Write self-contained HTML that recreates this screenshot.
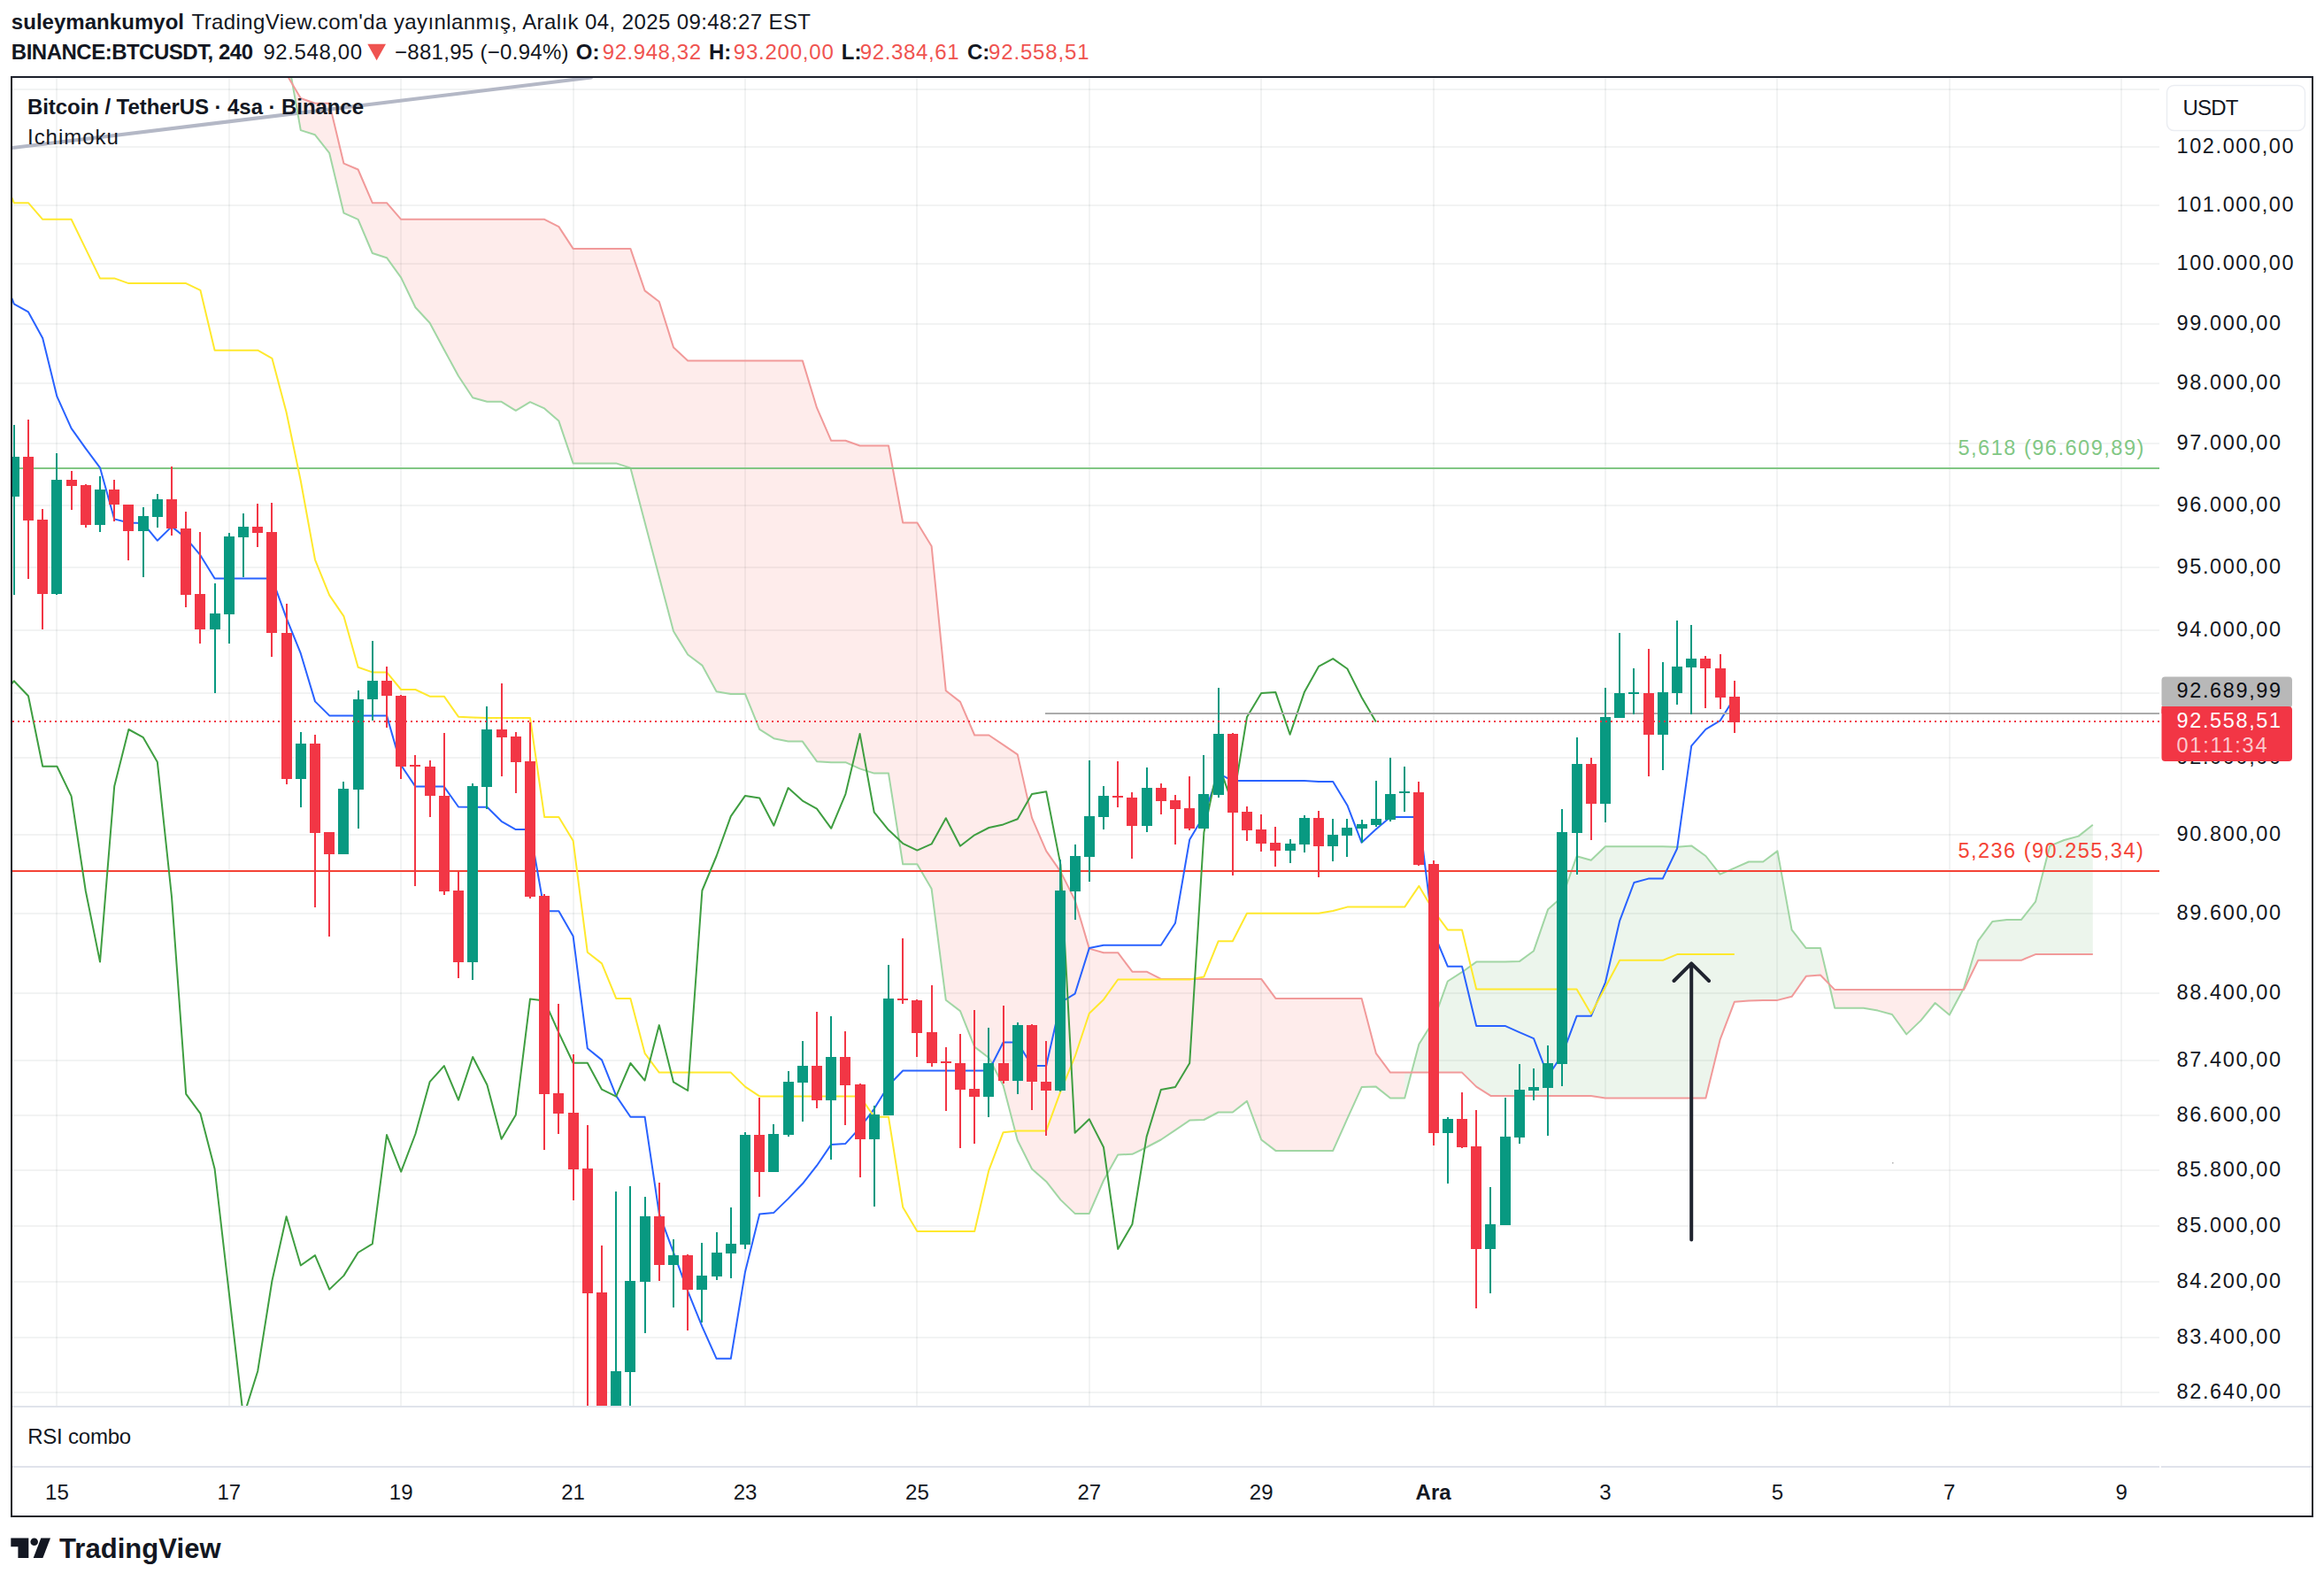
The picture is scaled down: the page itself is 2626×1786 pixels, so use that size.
<!DOCTYPE html>
<html lang="tr"><head><meta charset="utf-8"><title>BTCUSDT</title>
<style>html,body{margin:0;padding:0;background:#fff}body{width:2626px;height:1786px;position:relative;overflow:hidden}</style></head>
<body>
<svg width="2626" height="1786" viewBox="0 0 2626 1786" style="position:absolute;left:0;top:0;display:block">
<defs><clipPath id="cp"><rect x="14" y="88" width="2426" height="1500"/></clipPath></defs>
<rect width="2626" height="1786" fill="#fff"/>
<path d="M64 88V1588M259 88V1588M453 88V1588M648 88V1588M842 88V1588M1036 88V1588M1231 88V1588M1425 88V1588M1620 88V1588M1814 88V1588M2008 88V1588M2203 88V1588M2397 88V1588" stroke="#2a2e39" stroke-opacity="0.06" stroke-width="2" fill="none"/>
<path d="M14 101H2440M14 166H2440M14 232H2440M14 298H2440M14 366H2440M14 433H2440M14 501H2440M14 571H2440M14 641H2440M14 712H2440M14 783H2440M14 856H2440M14 943H2440M14 1032H2440M14 1122H2440M14 1198H2440M14 1260H2440M14 1322H2440M14 1385H2440M14 1448H2440M14 1511H2440M14 1573H2440" stroke="#2a2e39" stroke-opacity="0.06" stroke-width="2" fill="none"/>
<g clip-path="url(#cp)">
<path d="M323.6 56L339.8 147.1L356 152.3L372.2 172.9L388.4 240.6L404.6 247.8L420.8 286L437 291.2L453.2 313.6L469.4 347.2L485.6 364.8L501.8 395L518 424.7L534.2 449.2L550.4 453.8L566.6 453.8L582.8 463.8L599 454.2L615.2 461.4L631.4 475.6L647.6 523.4L663.8 523.4L680 523.4L696.2 523.4L712.4 528.6L728.6 590L744.8 651.4L761 713.1L777.2 739.5L793.4 751.6L809.6 781.3L825.8 783.9L842 783.9L858.2 823.9L874.4 834.2L890.6 837.6L906.8 837.6L923 860.2L939.2 861.2L955.4 861.2L971.6 868.4L987.8 873.6L1004 873.6L1020.2 976.3L1036.4 976.3L1052.6 1004L1068.8 1129.7L1085 1142.1L1101.2 1182.6L1117.4 1195L1133.6 1226.3L1149.8 1288.3L1166 1320.5L1182.2 1334.7L1198.4 1355.4L1214.6 1370.9L1230.8 1370.9L1247 1333.5L1263.2 1304.5L1279.4 1303.8L1295.6 1296L1311.8 1287.5L1328 1276.7L1344.2 1265.6L1360.4 1265L1376.6 1256.5L1392.8 1256.5L1409 1243.9L1425.2 1287.5L1441.4 1299.9L1457.6 1299.9L1473.8 1299.9L1490 1299.9L1506.2 1299.9L1522.4 1263.7L1538.6 1228.1L1554.8 1227.6L1571 1240.5L1587.2 1240.5L1587.2 1211.6L1571 1211.6L1554.8 1189.8L1538.6 1127.9L1522.4 1127.9L1506.2 1127.9L1490 1127.9L1473.8 1127.9L1457.6 1127.9L1441.4 1127.9L1425.2 1105.9L1409 1105.9L1392.8 1105.9L1376.6 1105.9L1360.4 1105.9L1344.2 1105.9L1328 1105.9L1311.8 1105.9L1295.6 1097.7L1279.4 1097.7L1263.2 1076.2L1247 1076.2L1230.8 1071.6L1214.6 1016.9L1198.4 984.6L1182.2 961.4L1166 923.9L1149.8 852.4L1133.6 841.3L1117.4 830.5L1101.2 830.5L1085 792.9L1068.8 780.3L1052.6 616.9L1036.4 590.5L1020.2 590.5L1004 503.5L987.8 503.5L971.6 503.5L955.4 497.8L939.2 497.8L923 460.7L906.8 407.4L890.6 407.4L874.4 407.4L858.2 407.4L842 407.4L825.8 407.4L809.6 407.4L793.4 407.4L777.2 407.4L761 392.4L744.8 340.8L728.6 328.4L712.4 280.9L696.2 280.9L680 280.9L663.8 280.9L647.6 280.9L631.4 256.1L615.2 247.8L599 247.8L582.8 247.8L566.6 247.8L550.4 247.8L534.2 247.8L518 247.8L501.8 247.8L485.6 247.8L469.4 247.8L453.2 247.8L437 229.2L420.8 229.2L404.6 191.5L388.4 184.6L372.2 116.7L356 116.7L339.8 111L323.6 83.6ZM2057 1071.1L2073.2 1138.7L2089.4 1138.7L2105.6 1138.7L2121.8 1141.6L2138 1146L2154.2 1168.4L2170.4 1152.9L2186.6 1133L2202.8 1146.5L2202.8 1118.1L2186.6 1118.1L2170.4 1118.1L2154.2 1118.1L2138 1118.1L2121.8 1118.1L2105.6 1118.1L2089.4 1118.1L2073.2 1118.1L2057 1101.5Z" fill="#f44336" fill-opacity="0.1" fill-rule="nonzero"/>
<path d="M307.4 -23.3L323.6 56L323.6 83.6L307.4 54.2ZM1587.2 1240.5L1603.4 1179.5L1619.6 1153.7L1635.8 1108.5L1652 1098.2L1668.2 1086.6L1684.4 1086.6L1700.6 1086.6L1716.8 1086.1L1733 1074.2L1749.2 1027.2L1765.4 1013L1781.6 967.3L1797.8 971.7L1814 956.2L1830.2 956.2L1846.4 956.2L1862.6 956.2L1878.8 956.2L1895 956.7L1911.2 955.4L1927.4 967L1943.6 987.7L1959.8 980.7L1976 973.5L1992.2 973.5L2008.4 961.4L2024.6 1050.4L2040.8 1071.1L2057 1071.1L2057 1101.5L2040.8 1102.8L2024.6 1125.8L2008.4 1129.9L1992.2 1129.9L1976 1130.5L1959.8 1131.8L1943.6 1174.4L1927.4 1240.5L1911.2 1240.5L1895 1240.5L1878.8 1240.5L1862.6 1240.5L1846.4 1240.5L1830.2 1240.5L1814 1240.5L1797.8 1237.9L1781.6 1237.9L1765.4 1237.9L1749.2 1237.9L1733 1237.9L1716.8 1237.9L1700.6 1237.9L1684.4 1237.9L1668.2 1227.6L1652 1211.6L1635.8 1211.6L1619.6 1211.6L1603.4 1211.6L1587.2 1211.6ZM2202.8 1146.5L2219 1116.3L2235.2 1062.8L2251.4 1040.9L2267.6 1039.1L2283.8 1039.1L2300 1018.7L2316.2 955.7L2332.4 949L2348.6 944.6L2364.8 931.7L2364.8 1078.1L2348.6 1078.1L2332.4 1078.1L2316.2 1078.1L2300 1078.1L2283.8 1084.8L2267.6 1084.8L2251.4 1084.8L2235.2 1084.8L2219 1118.1L2202.8 1118.1Z" fill="#43a047" fill-opacity="0.1" fill-rule="nonzero"/>
<line x1="13" y1="167.2" x2="668" y2="87.5" stroke="#b4b8c6" stroke-width="4" stroke-linecap="round"/>
<polyline points="307.4,-23.3 323.6,56 339.8,147.1 356,152.3 372.2,172.9 388.4,240.6 404.6,247.8 420.8,286 437,291.2 453.2,313.6 469.4,347.2 485.6,364.8 501.8,395 518,424.7 534.2,449.2 550.4,453.8 566.6,453.8 582.8,463.8 599,454.2 615.2,461.4 631.4,475.6 647.6,523.4 663.8,523.4 680,523.4 696.2,523.4 712.4,528.6 728.6,590 744.8,651.4 761,713.1 777.2,739.5 793.4,751.6 809.6,781.3 825.8,783.9 842,783.9 858.2,823.9 874.4,834.2 890.6,837.6 906.8,837.6 923,860.2 939.2,861.2 955.4,861.2 971.6,868.4 987.8,873.6 1004,873.6 1020.2,976.3 1036.4,976.3 1052.6,1004 1068.8,1129.7 1085,1142.1 1101.2,1182.6 1117.4,1195 1133.6,1226.3 1149.8,1288.3 1166,1320.5 1182.2,1334.7 1198.4,1355.4 1214.6,1370.9 1230.8,1370.9 1247,1333.5 1263.2,1304.5 1279.4,1303.8 1295.6,1296 1311.8,1287.5 1328,1276.7 1344.2,1265.6 1360.4,1265 1376.6,1256.5 1392.8,1256.5 1409,1243.9 1425.2,1287.5 1441.4,1299.9 1457.6,1299.9 1473.8,1299.9 1490,1299.9 1506.2,1299.9 1522.4,1263.7 1538.6,1228.1 1554.8,1227.6 1571,1240.5 1587.2,1240.5 1603.4,1179.5 1619.6,1153.7 1635.8,1108.5 1652,1098.2 1668.2,1086.6 1684.4,1086.6 1700.6,1086.6 1716.8,1086.1 1733,1074.2 1749.2,1027.2 1765.4,1013 1781.6,967.3 1797.8,971.7 1814,956.2 1830.2,956.2 1846.4,956.2 1862.6,956.2 1878.8,956.2 1895,956.7 1911.2,955.4 1927.4,967 1943.6,987.7 1959.8,980.7 1976,973.5 1992.2,973.5 2008.4,961.4 2024.6,1050.4 2040.8,1071.1 2057,1071.1 2073.2,1138.7 2089.4,1138.7 2105.6,1138.7 2121.8,1141.6 2138,1146 2154.2,1168.4 2170.4,1152.9 2186.6,1133 2202.8,1146.5 2219,1116.3 2235.2,1062.8 2251.4,1040.9 2267.6,1039.1 2283.8,1039.1 2300,1018.7 2316.2,955.7 2332.4,949 2348.6,944.6 2364.8,931.7" fill="none" stroke="#a1d6a4" stroke-width="2" stroke-linejoin="round" />
<polyline points="307.4,54.2 323.6,83.6 339.8,111 356,116.7 372.2,116.7 388.4,184.6 404.6,191.5 420.8,229.2 437,229.2 453.2,247.8 469.4,247.8 485.6,247.8 501.8,247.8 518,247.8 534.2,247.8 550.4,247.8 566.6,247.8 582.8,247.8 599,247.8 615.2,247.8 631.4,256.1 647.6,280.9 663.8,280.9 680,280.9 696.2,280.9 712.4,280.9 728.6,328.4 744.8,340.8 761,392.4 777.2,407.4 793.4,407.4 809.6,407.4 825.8,407.4 842,407.4 858.2,407.4 874.4,407.4 890.6,407.4 906.8,407.4 923,460.7 939.2,497.8 955.4,497.8 971.6,503.5 987.8,503.5 1004,503.5 1020.2,590.5 1036.4,590.5 1052.6,616.9 1068.8,780.3 1085,792.9 1101.2,830.5 1117.4,830.5 1133.6,841.3 1149.8,852.4 1166,923.9 1182.2,961.4 1198.4,984.6 1214.6,1016.9 1230.8,1071.6 1247,1076.2 1263.2,1076.2 1279.4,1097.7 1295.6,1097.7 1311.8,1105.9 1328,1105.9 1344.2,1105.9 1360.4,1105.9 1376.6,1105.9 1392.8,1105.9 1409,1105.9 1425.2,1105.9 1441.4,1127.9 1457.6,1127.9 1473.8,1127.9 1490,1127.9 1506.2,1127.9 1522.4,1127.9 1538.6,1127.9 1554.8,1189.8 1571,1211.6 1587.2,1211.6 1603.4,1211.6 1619.6,1211.6 1635.8,1211.6 1652,1211.6 1668.2,1227.6 1684.4,1237.9 1700.6,1237.9 1716.8,1237.9 1733,1237.9 1749.2,1237.9 1765.4,1237.9 1781.6,1237.9 1797.8,1237.9 1814,1240.5 1830.2,1240.5 1846.4,1240.5 1862.6,1240.5 1878.8,1240.5 1895,1240.5 1911.2,1240.5 1927.4,1240.5 1943.6,1174.4 1959.8,1131.8 1976,1130.5 1992.2,1129.9 2008.4,1129.9 2024.6,1125.8 2040.8,1102.8 2057,1101.5 2073.2,1118.1 2089.4,1118.1 2105.6,1118.1 2121.8,1118.1 2138,1118.1 2154.2,1118.1 2170.4,1118.1 2186.6,1118.1 2202.8,1118.1 2219,1118.1 2235.2,1084.8 2251.4,1084.8 2267.6,1084.8 2283.8,1084.8 2300,1078.1 2316.2,1078.1 2332.4,1078.1 2348.6,1078.1 2364.8,1078.1" fill="none" stroke="#f19a9a" stroke-width="2" stroke-linejoin="round" />
<path d="M14 529H2440" stroke="#81c784" stroke-width="2"/>
<path d="M14 984H2440" stroke="#f44336" stroke-width="2"/>
<polyline points="13.4,336.9 15.8,343.3 32,352.4 48.2,382.1 64.4,447.9 80.6,483.9 96.8,506.6 113,528.3 129.2,586.4 145.4,590.5 161.6,591 177.8,610.7 194,594.9 210.2,607.8 226.4,627.2 242.6,653.5 258.8,653.5 275,653.5 291.2,653.5 307.4,653.5 323.6,698.2 339.8,738.2 356,792.4 372.2,808.4 388.4,808.4 404.6,808.4 420.8,808.4 437,808.4 453.2,864.5 469.4,888.6 485.6,888.6 501.8,888.6 518,911.5 534.2,911.8 550.4,911.8 566.6,927.8 582.8,937.1 599,937.1 615.2,1029.3 631.4,1029.3 647.6,1057.4 663.8,1184.2 680,1197.4 696.2,1237.9 712.4,1261.7 728.6,1261.7 744.8,1370.9 761,1414.8 777.2,1458.7 793.4,1498.7 809.6,1534.8 825.8,1534.8 842,1436.7 858.2,1371.4 874.4,1369.9 890.6,1354.1 906.8,1337.3 923,1316.7 939.2,1292.9 955.4,1291.9 971.6,1274.1 987.8,1252.6 1004,1226.3 1020.2,1209.5 1036.4,1209.5 1052.6,1209.5 1068.8,1209.5 1085,1209.5 1101.2,1209.5 1117.4,1209.5 1133.6,1177.5 1149.8,1177.5 1166,1204 1182.2,1204 1198.4,1132.5 1214.6,1122.7 1230.8,1071.1 1247,1067.7 1263.2,1067.7 1279.4,1067.7 1295.6,1067.7 1311.8,1067.7 1328,1042.7 1344.2,948.5 1360.4,921.3 1376.6,873.6 1392.8,882.1 1409,882.1 1425.2,882.1 1441.4,882.1 1457.6,882.1 1473.8,882.1 1490,882.9 1506.2,882.9 1522.4,909.7 1538.6,951.8 1554.8,936.8 1571,922.9 1587.2,922.9 1603.4,922.9 1619.6,1053 1635.8,1091.7 1652,1091.7 1668.2,1158.9 1684.4,1158.9 1700.6,1158.9 1716.8,1166.1 1733,1173.1 1749.2,1215.7 1765.4,1191.1 1781.6,1147.8 1797.8,1147.8 1814,1109.8 1830.2,1040.1 1846.4,997 1862.6,992.6 1878.8,992.6 1895,958.8 1911.2,842.6 1927.4,823.8 1943.6,814.2 1959.8,788.4" fill="none" stroke="#2962ff" stroke-width="2" stroke-linejoin="round" />
<polyline points="13.4,223.3 15.8,229.2 32,229.2 48.2,247.8 64.4,247.8 80.6,247.8 96.8,281.1 113,314.4 129.2,314.4 145.4,320.1 161.6,320.1 177.8,320.1 194,320.1 210.2,320.1 226.4,327.8 242.6,395.7 258.8,395.7 275,395.7 291.2,395.7 307.4,404.8 323.6,465.8 339.8,543.3 356,632.3 372.2,672.4 388.4,696.1 404.6,753.7 420.8,759.4 437,759.4 453.2,779 469.4,779 485.6,786.7 501.8,786.7 518,809.7 534.2,810.5 550.4,811 566.6,811 582.8,811 599,811 615.2,923.1 631.4,923.1 647.6,949.7 663.8,1075.7 680,1088.4 696.2,1127.9 712.4,1127.9 728.6,1189.8 744.8,1211.6 761,1211.6 777.2,1211.6 793.4,1211.6 809.6,1211.6 825.8,1211.6 842,1227.6 858.2,1238.4 874.4,1238.4 890.6,1238.4 906.8,1238.4 923,1238.4 939.2,1238.4 955.4,1238.4 971.6,1238.4 987.8,1261.7 1004,1261.7 1020.2,1363.7 1036.4,1391 1052.6,1391 1068.8,1391 1085,1391 1101.2,1391 1117.4,1321.8 1133.6,1279.2 1149.8,1277.4 1166,1277.4 1182.2,1277.4 1198.4,1232.8 1214.6,1193.7 1230.8,1144.7 1247,1129.2 1263.2,1106.5 1279.4,1106.5 1295.6,1106.5 1311.8,1106.5 1328,1106.5 1344.2,1106.5 1360.4,1103.4 1376.6,1063.3 1392.8,1063.3 1409,1031.8 1425.2,1031.8 1441.4,1031.8 1457.6,1031.8 1473.8,1031.8 1490,1031.8 1506.2,1029 1522.4,1024.6 1538.6,1024.6 1554.8,1024.6 1571,1024.6 1587.2,1024.6 1603.4,1000.9 1619.6,1028.5 1635.8,1050.4 1652,1050.4 1668.2,1117.6 1684.4,1117.6 1700.6,1117.6 1716.8,1117.6 1733,1117.6 1749.2,1117.6 1765.4,1117.6 1781.6,1117.6 1797.8,1145.2 1814,1115 1830.2,1084.8 1846.4,1084.8 1862.6,1084.8 1878.8,1084.8 1895,1078.1 1911.2,1078.1 1927.4,1078.1 1943.6,1078.1 1959.8,1078.1" fill="none" stroke="#ffe92e" stroke-width="2" stroke-linejoin="round" />
<polyline points="-0.4,790.3 15.8,769.2 32,786.2 48.2,865.8 64.4,865.8 80.6,899.4 96.8,1006.5 113,1086.6 129.2,888.3 145.4,824 161.6,832.8 177.8,860.7 194,1013 210.2,1235.9 226.4,1257.8 242.6,1320.5 258.8,1460.7 275,1600.7 291.2,1549 307.4,1447 323.6,1374.2 339.8,1429.5 356,1418.1 372.2,1456.6 388.4,1441.1 404.6,1415 420.8,1405.2 437,1282.1 453.2,1323.6 469.4,1281 485.6,1222.2 501.8,1204.1 518,1242.6 534.2,1194 550.4,1225.5 566.6,1286.7 582.8,1259.4 599,1128.4 615.2,1130.5 631.4,1166.6 647.6,1200.7 663.8,1200.7 680,1230.7 696.2,1238.7 712.4,1201 728.6,1220.6 744.8,1158.1 761,1222.4 777.2,1232 793.4,1006 809.6,967 825.8,922.1 842,898.9 858.2,901.5 874.4,932.7 890.6,890.1 906.8,904.6 923,913.6 939.2,935.8 955.4,897.1 971.6,828.9 987.8,917.7 1004,937.6 1020.2,952.8 1036.4,960.6 1052.6,953.4 1068.8,924.2 1085,955.7 1101.2,943.3 1117.4,935 1133.6,931.4 1149.8,925.2 1166,897.1 1182.2,894.2 1198.4,976.9 1214.6,1279.8 1230.8,1264.3 1247,1296 1263.2,1410.9 1279.4,1383 1295.6,1284.1 1311.8,1231 1328,1228.1 1344.2,1201 1360.4,940.2 1376.6,862.7 1392.8,908.4 1409,810 1425.2,782.9 1441.4,782.1 1457.6,829.8 1473.8,782.1 1490,752.9 1506.2,744.1 1522.4,755.5 1538.6,787.8 1554.8,815.6" fill="none" stroke="#3f9e41" stroke-width="2" stroke-linejoin="round" />
<path d="M1181 806H2440" stroke="#ababab" stroke-width="2"/>
<path d="M16 480V672M64 512V672M113 538V601M162 573V652M178 558V596M243 659V783M259 602V727M275 580V652M340 827V912M388 883V965M405 780V936M421 724V814M534 885V1107M550 798V914M696 1346V1608M712 1340V1608M729 1352V1506M761 1400V1477M793 1404V1494M810 1392V1446M826 1364V1444M842 1279V1411M874 1270V1324M891 1210V1284M907 1176V1267M939 1148V1310M988 1249V1363M1004 1090V1260M1117 1161V1262M1150 1155V1236M1198 971V1233M1215 954V1039M1231 859V996M1247 888V937M1296 867V940M1360 853V936M1377 777V901M1458 948V975M1474 921V963M1506 925V973M1522 925V968M1539 926V952M1555 882V934M1571 856V928M1587 866V917M1636 1262V1337M1684 1341V1461M1701 1240V1384M1717 1202V1292M1733 1207V1243M1749 1181V1283M1765 914V1227M1782 833V988M1814 777V929M1830 715V811M1846 755V807M1879 748V870M1895 701V796M1911 706V807" stroke="#089981" stroke-width="2" fill="none"/>
<path d="M32 474V654M48 575V711M81 532V576M97 547V596M129 542V589M145 570V633M194 527V605M210 578V686M226 601V727M291 569V618M307 568V742M324 682V886M356 830V1025M372 940V1058M437 753V822M453 785V880M469 853V1001M486 859V923M502 828V1011M518 985V1105M567 772V877M583 827V896M599 816V1015M615 1010V1299M631 1134V1281M648 1191V1356M664 1271V1608M680 1407V1608M745 1336V1447M777 1417V1503M858 1240V1352M923 1143V1252M955 1165V1271M972 1224V1330M1020 1060V1134M1036 1129V1194M1053 1113V1205M1069 1183V1255M1085 1168V1297M1101 1141V1292M1134 1136V1224M1166 1157V1254M1182 1176V1283M1263 860V912M1279 895V970M1312 885V920M1328 898V954M1344 877V938M1393 828V989M1409 911V950M1425 920V962M1441 934V979M1490 916V991M1603 883V978M1620 972V1294M1652 1234V1297M1668 1254V1478M1798 856V949M1863 733V877M1927 741V800M1944 739V801M1960 769V828" stroke="#f23645" stroke-width="2" fill="none"/>
<path d="M10 516h12V561h-12ZM58 542h12V671h-12ZM107 553h12V593h-12ZM156 583h12V600h-12ZM172 564h12V584h-12ZM237 693h12V711h-12ZM253 606h12V694h-12ZM269 595h12V607h-12ZM334 840h12V880h-12ZM382 891h12V965h-12ZM399 790h12V892h-12ZM415 769h12V790h-12ZM528 888h12V1087h-12ZM544 824h12V889h-12ZM690 1549h12V1608h-12ZM706 1447h12V1550h-12ZM723 1374h12V1448h-12ZM755 1418h12V1429h-12ZM787 1441h12V1457h-12ZM804 1415h12V1442h-12ZM820 1405h12V1416h-12ZM836 1282h12V1406h-12ZM868 1281h12V1324h-12ZM885 1222h12V1282h-12ZM901 1204h12V1223h-12ZM933 1194h12V1243h-12ZM982 1259h12V1287h-12ZM998 1128h12V1260h-12ZM1111 1201h12V1239h-12ZM1144 1158h12V1221h-12ZM1192 1006h12V1232h-12ZM1209 967h12V1007h-12ZM1225 922h12V968h-12ZM1241 899h12V923h-12ZM1290 890h12V933h-12ZM1354 897h12V936h-12ZM1371 829h12V898h-12ZM1452 953h12V961h-12ZM1468 924h12V954h-12ZM1500 943h12V956h-12ZM1516 935h12V944h-12ZM1533 931h12V936h-12ZM1549 925h12V932h-12ZM1565 897h12V926h-12ZM1581 894h12V896h-12ZM1630 1264h12V1280h-12ZM1678 1383h12V1411h-12ZM1695 1284h12V1384h-12ZM1711 1231h12V1285h-12ZM1727 1228h12V1232h-12ZM1743 1201h12V1229h-12ZM1759 940h12V1202h-12ZM1776 863h12V941h-12ZM1808 810h12V908h-12ZM1824 783h12V811h-12ZM1840 782h12V784h-12ZM1873 782h12V830h-12ZM1889 753h12V783h-12ZM1905 744h12V754h-12Z" fill="#089981"/>
<path d="M26 516h12V588h-12ZM42 587h12V671h-12ZM75 542h12V549h-12ZM91 548h12V593h-12ZM123 553h12V570h-12ZM139 570h12V600h-12ZM188 564h12V597h-12ZM204 597h12V672h-12ZM220 671h12V711h-12ZM285 595h12V602h-12ZM301 601h12V715h-12ZM318 715h12V880h-12ZM350 840h12V941h-12ZM366 940h12V965h-12ZM431 769h12V786h-12ZM447 786h12V866h-12ZM463 864h12V866h-12ZM480 866h12V899h-12ZM496 899h12V1007h-12ZM512 1006h12V1087h-12ZM561 824h12V833h-12ZM577 832h12V861h-12ZM593 860h12V1013h-12ZM609 1012h12V1236h-12ZM625 1235h12V1258h-12ZM642 1257h12V1321h-12ZM658 1320h12V1461h-12ZM674 1460h12V1608h-12ZM739 1374h12V1429h-12ZM771 1418h12V1457h-12ZM852 1282h12V1324h-12ZM917 1204h12V1243h-12ZM949 1194h12V1226h-12ZM966 1225h12V1287h-12ZM1014 1128h12V1130h-12ZM1030 1130h12V1167h-12ZM1047 1166h12V1201h-12ZM1063 1199h12V1201h-12ZM1079 1201h12V1231h-12ZM1095 1230h12V1239h-12ZM1128 1201h12V1221h-12ZM1160 1158h12V1222h-12ZM1176 1222h12V1232h-12ZM1257 899h12V901h-12ZM1273 901h12V933h-12ZM1306 890h12V905h-12ZM1322 904h12V914h-12ZM1338 913h12V936h-12ZM1387 829h12V918h-12ZM1403 917h12V938h-12ZM1419 937h12V953h-12ZM1435 952h12V961h-12ZM1484 924h12V956h-12ZM1597 895h12V977h-12ZM1614 976h12V1280h-12ZM1646 1264h12V1296h-12ZM1662 1295h12V1411h-12ZM1792 863h12V908h-12ZM1857 783h12V830h-12ZM1921 744h12V755h-12ZM1938 755h12V788h-12ZM1954 787h12V816h-12Z" fill="#f23645"/>
<path d="M14 815H2440" stroke="#f23645" stroke-width="2" stroke-dasharray="2 4"/>
<path d="M1911.2 1400.5V1088.5M1891.5 1108L1911.2 1088.4L1931 1108" stroke="#20242f" stroke-width="4" stroke-linecap="round" stroke-linejoin="round" fill="none"/>
<rect x="2138" y="1313" width="1.5" height="1.5" fill="#b0b0b0"/>
</g>
<path d="M14 1589H2612M14 1657H2440M2442 1657H2612" stroke="#e0e3eb" stroke-width="2"/>
<rect x="13" y="87" width="2600" height="1626" fill="none" stroke="#1c202b" stroke-width="2"/>
<g font-family="Liberation Sans, Arial, sans-serif">
<text x="12.8" y="32.8" font-size="24" fill="#131722" font-weight="bold" textLength="195.2" lengthAdjust="spacing" >suleymankumyol</text>
<text x="216.5" y="32.8" font-size="24" fill="#131722" textLength="699.5" lengthAdjust="spacing" >TradingView.com'da yayınlanmış, Aralık 04, 2025 09:48:27 EST</text>
<text x="12.8" y="66.8" font-size="24" fill="#131722" font-weight="bold" textLength="273.2" lengthAdjust="spacing" >BINANCE:BTCUSDT, 240</text>
<text x="297.4" y="66.8" font-size="24" fill="#131722" textLength="111.6" lengthAdjust="spacing" >92.548,00</text>
<path d="M415.3 49.7H436L425.6 68.2Z" fill="#ef5350"/>
<text x="446" y="66.8" font-size="24" fill="#131722" textLength="196.6" lengthAdjust="spacing" >−881,95 (−0.94%)</text>
<text x="650.8" y="66.8" font-size="24" fill="#131722" font-weight="bold" >O:</text>
<text x="680.8" y="66.8" font-size="24" fill="#ef5350" textLength="111.2" lengthAdjust="spacing" >92.948,32</text>
<text x="801" y="66.8" font-size="24" fill="#131722" font-weight="bold" >H:</text>
<text x="828.8" y="66.8" font-size="24" fill="#ef5350" textLength="113" lengthAdjust="spacing" >93.200,00</text>
<text x="950.8" y="66.8" font-size="24" fill="#131722" font-weight="bold" >L:</text>
<text x="971.8" y="66.8" font-size="24" fill="#ef5350" textLength="111.8" lengthAdjust="spacing" >92.384,61</text>
<text x="1093" y="66.8" font-size="24" fill="#131722" font-weight="bold" >C:</text>
<text x="1117" y="66.8" font-size="24" fill="#ef5350" textLength="113.5" lengthAdjust="spacing" >92.558,51</text>
<text x="31" y="128.5" font-size="24" fill="#131722" font-weight="bold" textLength="380" lengthAdjust="spacing" >Bitcoin / TetherUS · 4sa · Binance</text>
<text x="31" y="162.6" font-size="24" fill="#131722" textLength="102.8" lengthAdjust="spacing" >Ichimoku</text>
<text x="31.2" y="1630.6" font-size="24" fill="#131722" textLength="117" lengthAdjust="spacing" >RSI combo</text>
<text x="2212.4" y="513.6" font-size="23.5" fill="#81c784" textLength="210" lengthAdjust="spacing" >5,618 (96.609,89)</text>
<text x="2212.4" y="969" font-size="23.5" fill="#f44336" textLength="209.4" lengthAdjust="spacing" >5,236 (90.255,34)</text>
<text x="2459.5" y="172.6" font-size="23.5" fill="#131722" textLength="132" lengthAdjust="spacing" >102.000,00</text>
<text x="2459.5" y="238.6" font-size="23.5" fill="#131722" textLength="132" lengthAdjust="spacing" >101.000,00</text>
<text x="2459.5" y="304.6" font-size="23.5" fill="#131722" textLength="132" lengthAdjust="spacing" >100.000,00</text>
<text x="2459.5" y="372.6" font-size="23.5" fill="#131722" textLength="117.6" lengthAdjust="spacing" >99.000,00</text>
<text x="2459.5" y="439.6" font-size="23.5" fill="#131722" textLength="117.6" lengthAdjust="spacing" >98.000,00</text>
<text x="2459.5" y="507.6" font-size="23.5" fill="#131722" textLength="117.6" lengthAdjust="spacing" >97.000,00</text>
<text x="2459.5" y="577.6" font-size="23.5" fill="#131722" textLength="117.6" lengthAdjust="spacing" >96.000,00</text>
<text x="2459.5" y="647.6" font-size="23.5" fill="#131722" textLength="117.6" lengthAdjust="spacing" >95.000,00</text>
<text x="2459.5" y="718.6" font-size="23.5" fill="#131722" textLength="117.6" lengthAdjust="spacing" >94.000,00</text>
<text x="2459.5" y="862.6" font-size="23.5" fill="#131722" textLength="117.6" lengthAdjust="spacing" >92.000,00</text>
<text x="2459.5" y="949.6" font-size="23.5" fill="#131722" textLength="117.6" lengthAdjust="spacing" >90.800,00</text>
<text x="2459.5" y="1038.6" font-size="23.5" fill="#131722" textLength="117.6" lengthAdjust="spacing" >89.600,00</text>
<text x="2459.5" y="1128.6" font-size="23.5" fill="#131722" textLength="117.6" lengthAdjust="spacing" >88.400,00</text>
<text x="2459.5" y="1204.6" font-size="23.5" fill="#131722" textLength="117.6" lengthAdjust="spacing" >87.400,00</text>
<text x="2459.5" y="1266.6" font-size="23.5" fill="#131722" textLength="117.6" lengthAdjust="spacing" >86.600,00</text>
<text x="2459.5" y="1328.6" font-size="23.5" fill="#131722" textLength="117.6" lengthAdjust="spacing" >85.800,00</text>
<text x="2459.5" y="1391.6" font-size="23.5" fill="#131722" textLength="117.6" lengthAdjust="spacing" >85.000,00</text>
<text x="2459.5" y="1454.6" font-size="23.5" fill="#131722" textLength="117.6" lengthAdjust="spacing" >84.200,00</text>
<text x="2459.5" y="1517.6" font-size="23.5" fill="#131722" textLength="117.6" lengthAdjust="spacing" >83.400,00</text>
<text x="2459.5" y="1579.6" font-size="23.5" fill="#131722" textLength="117.6" lengthAdjust="spacing" >82.640,00</text>
<rect x="2448.5" y="96.5" width="156" height="51" rx="8" fill="#fff" stroke="#ebedf2" stroke-width="1.5"/>
<text x="2466.5" y="130" font-size="24" fill="#131722" textLength="63" lengthAdjust="spacing" >USDT</text>
<rect x="2442.5" y="764.5" width="147.5" height="35" rx="4" fill="#b8b8b8"/>
<text x="2459.5" y="788" font-size="23.5" fill="#0c0e15" textLength="117.6" lengthAdjust="spacing" >92.689,99</text>
<rect x="2442.5" y="798" width="147.5" height="62" rx="4" fill="#f23645"/>
<rect x="2442.5" y="798" width="8" height="8" fill="#f23645"/>
<text x="2459.5" y="821.5" font-size="23.5" fill="#fff" textLength="117.6" lengthAdjust="spacing" >92.558,51</text>
<text x="2459.5" y="850" font-size="23.5" fill="#fbc9cd" textLength="102" lengthAdjust="spacing" >01:11:34</text>
<text x="64.4" y="1694" font-size="24" fill="#131722" text-anchor="middle" >15</text>
<text x="258.8" y="1694" font-size="24" fill="#131722" text-anchor="middle" >17</text>
<text x="453.2" y="1694" font-size="24" fill="#131722" text-anchor="middle" >19</text>
<text x="647.6" y="1694" font-size="24" fill="#131722" text-anchor="middle" >21</text>
<text x="842" y="1694" font-size="24" fill="#131722" text-anchor="middle" >23</text>
<text x="1036.4" y="1694" font-size="24" fill="#131722" text-anchor="middle" >25</text>
<text x="1230.8" y="1694" font-size="24" fill="#131722" text-anchor="middle" >27</text>
<text x="1425.2" y="1694" font-size="24" fill="#131722" text-anchor="middle" >29</text>
<text x="1619.6" y="1694" font-size="24" fill="#131722" font-weight="bold" text-anchor="middle" >Ara</text>
<text x="1814" y="1694" font-size="24" fill="#131722" text-anchor="middle" >3</text>
<text x="2008.4" y="1694" font-size="24" fill="#131722" text-anchor="middle" >5</text>
<text x="2202.8" y="1694" font-size="24" fill="#131722" text-anchor="middle" >7</text>
<text x="2397.2" y="1694" font-size="24" fill="#131722" text-anchor="middle" >9</text>
<path d="M12.3 1737.5H32.3V1760H20.4V1747.2H12.3Z" fill="#131722"/><circle cx="38.7" cy="1741.8" r="4.3" fill="#131722"/><path d="M46.3 1737.5H57L48.4 1760H37.7Z" fill="#131722"/>
<text x="67" y="1760" font-size="31" fill="#131722" font-weight="bold" textLength="182.6" lengthAdjust="spacing" >TradingView</text>
</g>
</svg>
</body></html>
